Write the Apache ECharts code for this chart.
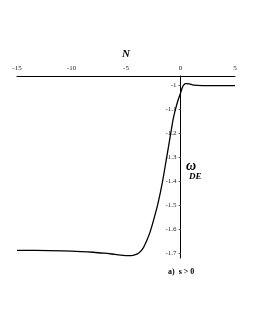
<!DOCTYPE html>
<html><head><meta charset="utf-8">
<script src="https://cdn.jsdelivr.net/npm/echarts@6/dist/echarts.min.js"></script>
<style>html,body{margin:0;padding:0;background:#fff;}#c{width:255px;height:330px;}</style>
</head><body><div id="c"></div>
<script>
const nValues = [-15,-12,-10,-8,-7,-6,-5,-4.5,-4,-3.7,-3.4,-3.1,-2.8,-2.45,-2.05,-1.65,-1.27,-0.9,-0.65,-0.45,-0.2,0,0.15,0.3,0.5,0.8,1.2,2,5];
const wValues = [-1.687,-1.688,-1.690,-1.695,-1.699,-1.704,-1.709,-1.709,-1.703,-1.693,-1.676,-1.647,-1.612,-1.558,-1.488,-1.400,-1.300,-1.200,-1.135,-1.097,-1.057,-1.032,-1.010,-0.997,-0.992,-0.993,-0.998,-1.0,-1.0];
const yTicks = [-1,-1.1,-1.2,-1.3,-1.4,-1.5,-1.6,-1.7];

const serif = 'Liberation Serif';
const chart = echarts.init(document.getElementById('c'));
chart.setOption({
  animation: false,
  backgroundColor: '#fff',
  grid: {left: 17, right: 20, top: 76, bottom: 72},
  xAxis: {
    type: 'value', position: 'top', min: -15, max: 5, interval: 5,
    name: 'N', nameLocation: 'middle', nameGap: 15,
    nameTextStyle: {fontFamily: serif, fontSize: 11, fontWeight: 'bold', fontStyle: 'italic', color: '#000'},
    axisLine: {show: true, onZero: false, lineStyle: {color: '#000', width: 1}},
    axisTick: {show: false},
    axisLabel: {fontFamily: serif, fontSize: 7, color: '#222', margin: 4},
    splitLine: {show: false}
  },
  yAxis: {
    type: 'value', min: -1.719, max: -0.96, position: 'left', offset: -163.5,
    axisLine: {show: true, onZero: false, lineStyle: {color: '#000', width: 1}},
    axisTick: {show: true, length: 2, customValues: yTicks, lineStyle: {color: '#666'}},
    axisLabel: {fontFamily: serif, fontSize: 7, color: '#222', margin: 4, customValues: yTicks,
      formatter: v => String(Math.round(v*10)/10)},
    splitLine: {show: false}
  },
  graphic: [
    {type: 'text', left: 186, top: 159, style: {text: 'ω', fontFamily: serif, fontSize: 14, fontWeight: 'bold', fontStyle: 'italic', fill: '#000'}},
    {type: 'text', left: 189, top: 172, style: {text: 'DE', fontFamily: serif, fontSize: 9, fontWeight: 'bold', fontStyle: 'italic', fill: '#000'}},
    {type: 'text', left: 168, top: 268, style: {text: 'a)  s > 0', fontFamily: serif, fontSize: 8, fontWeight: 'bold', fill: '#000'}}
  ],
  series: [{
    type: 'line', showSymbol: false, smooth: 0.3,
    data: nValues.map((n, i) => [n, wValues[i]]),
    lineStyle: {color: '#000', width: 1.3}
  }]
});
</script></body></html>
